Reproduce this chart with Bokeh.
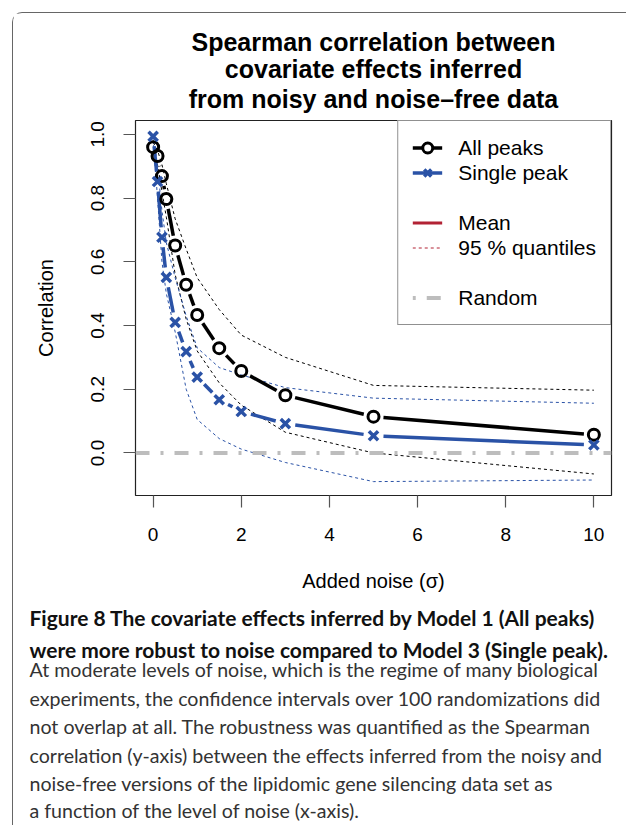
import math
from bokeh.plotting import figure
from bokeh.models import (Range1d, FixedTicker, Title, Legend, LegendItem,
                          Span, PrintfTickFormatter)
from bokeh.embed import file_html
from bokeh.resources import INLINE

# ---------------- data ----------------
noise = [0, 0.1, 0.2, 0.3, 0.5, 0.75, 1, 1.5, 2, 3, 5, 10]
all_mean = [0.960, 0.932, 0.869, 0.797, 0.651, 0.528, 0.433, 0.329, 0.257, 0.181, 0.114, 0.057]
all_upper = [0.975, 0.950, 0.905, 0.845, 0.735, 0.640, 0.550, 0.450, 0.370, 0.300, 0.212, 0.197]
all_lower = [0.945, 0.905, 0.820, 0.740, 0.560, 0.420, 0.320, 0.220, 0.150, 0.065, 0.000, -0.066]
single_mean = [0.994, 0.852, 0.677, 0.551, 0.410, 0.318, 0.238, 0.167, 0.130, 0.092, 0.054, 0.025]
single_upper = [0.998, 0.900, 0.760, 0.660, 0.550, 0.430, 0.330, 0.268, 0.245, 0.205, 0.172, 0.156]
single_lower = [0.985, 0.800, 0.600, 0.500, 0.380, 0.200, 0.105, 0.045, 0.012, -0.030, -0.090, -0.085]
random_level = 0.0

x_ticks = [0, 2, 4, 6, 8, 10]
y_ticks = [0.0, 0.2, 0.4, 0.6, 0.8, 1.0]

title_lines = ["Spearman correlation between", "covariate effects inferred",
               "from noisy and noise\u2013free data"]
x_label = "Added noise (\u03c3)"
y_label = "Correlation"
legend_labels = ["All peaks", "Single peak", "Mean", "95 % quantiles", "Random"]

caption_bold = ["Figure 8 The covariate effects inferred by Model 1 (All peaks)",
                "were more robust to noise compared to Model 3 (Single peak)."]
caption_text = ["At moderate levels of noise, which is the regime of many biological",
                "experiments, the confidence intervals over 100 randomizations did",
                "not overlap at all. The robustness was quantified as the Spearman",
                "correlation (y-axis) between the effects inferred from the noisy and",
                "noise-free versions of the lipidomic gene silencing data set as",
                "a function of the level of noise (x-axis)."]

# ---------------- layout ----------------
X_LO, X_HI = -0.4, 10.4
Y_LO, Y_HI = -0.1336, 1.0436
MARGIN = 12
FIG_W, FIG_H = 614, 813
B_LEFT, B_TOP = 122, 107
FRAME_W, FRAME_H = 476, 375
B_RIGHT = FIG_W - B_LEFT - FRAME_W
B_BOTTOM = FIG_H - B_TOP - FRAME_H

BLACK = "#000000"
BLUE = "#2A52A6"
RED = "#B22234"
GREY = "#BDBDBD"
FONT = "Liberation Sans"
NAN = float("nan")

p = figure(width=FIG_W, height=FIG_H, output_backend="svg", toolbar_location=None,
           x_range=Range1d(X_LO, X_HI), y_range=Range1d(Y_LO, Y_HI),
           min_border_left=B_LEFT, min_border_right=B_RIGHT,
           min_border_top=B_TOP, min_border_bottom=B_BOTTOM,
           margin=(MARGIN, 0, 0, MARGIN))
p.styles = {"border-left": "1px solid #666666", "border-top": "1px solid #666666",
            "border-top-left-radius": "10px"}
p.grid.visible = False
p.outline_line_color = "#222222"
p.outline_line_width = 1.2
p.background_fill_color = "white"
p.border_fill_color = "white"

for ax in (p.xaxis[0], p.yaxis[0]):
    ax.axis_line_color = None
    ax.major_tick_line_color = "#555555"
    ax.major_tick_line_width = 1.2
    ax.major_tick_in = 0
    ax.major_tick_out = 12
    ax.minor_tick_line_color = None
    ax.major_label_text_font = FONT
    ax.major_label_text_font_size = "19px"
    ax.major_label_text_color = "black"
    ax.axis_label_text_font = FONT
    ax.axis_label_text_font_size = "20px"
    ax.axis_label_text_font_style = "normal"
    ax.axis_label_text_color = "black"

p.xaxis.ticker = FixedTicker(ticks=x_ticks)
p.yaxis.ticker = FixedTicker(ticks=y_ticks)
p.yaxis.formatter = PrintfTickFormatter(format="%.1f")
p.yaxis.major_label_orientation = "vertical"
p.xaxis.axis_label = x_label
p.yaxis.axis_label = y_label
p.xaxis.major_label_standoff = 20
p.xaxis.axis_label_standoff = 26
p.yaxis.major_label_standoff = 19
p.yaxis.axis_label_standoff = 32

# titles (innermost first; outermost added last)
title_standoffs = [16, -16, 10]   # line 3, line 2, line 1
for line, so in zip(reversed(title_lines), title_standoffs):
    p.add_layout(Title(text=line, align="center", text_font=FONT, text_font_size="25px",
                       text_font_style="bold", text_color="black", standoff=so), "above")


def gapped(xs, ys, gap_px):
    """Segments between consecutive points with gaps around points (R type='b')."""
    sx = FRAME_W / (X_HI - X_LO)
    sy = FRAME_H / (Y_HI - Y_LO)
    x0, y0, x1, y1 = [], [], [], []
    for i in range(len(xs) - 1):
        dx = (xs[i + 1] - xs[i]) * sx
        dy = (ys[i + 1] - ys[i]) * sy
        L = math.hypot(dx, dy)
        if L <= 2 * gap_px:
            continue
        t = gap_px / L
        x0.append(xs[i] + (xs[i + 1] - xs[i]) * t)
        y0.append(ys[i] + (ys[i + 1] - ys[i]) * t)
        x1.append(xs[i + 1] - (xs[i + 1] - xs[i]) * t)
        y1.append(ys[i + 1] - (ys[i + 1] - ys[i]) * t)
    return dict(x0=x0, y0=y0, x1=x1, y1=y1)


# random baseline
p.add_layout(Span(location=random_level, dimension="width", line_color=GREY,
                  line_width=4, line_dash="14 11 3 11"))

# quantile lines
p.line(noise, all_upper, line_color=BLACK, line_width=1, line_dash="3 3")
p.line(noise, all_lower, line_color=BLACK, line_width=1, line_dash="3 3")
p.line(noise, single_upper, line_color=BLUE, line_width=1, line_dash="3 3")
p.line(noise, single_lower, line_color=BLUE, line_width=1, line_dash="3 3")

# mean lines with gaps (type = "b")
p.segment(line_color=BLACK, line_width=3.5, **gapped(noise, all_mean, 10))
p.segment(line_color=BLUE, line_width=3.5, **gapped(noise, single_mean, 10))
p.scatter(noise, all_mean, marker="circle", size=11, fill_color=None,
          line_color=BLACK, line_width=3)
p.scatter(noise, single_mean, marker="x", size=13, line_color=BLUE, line_width=3.5)

# legend proxy renderers (a single NaN point: not drawn in the plot)
l_all_line = p.line(x=[NAN], y=[NAN], line_color=BLACK, line_width=3.5)
l_all_pt = p.scatter(x=[NAN], y=[NAN], marker="circle", size=10, fill_color="white",
                     line_color=BLACK, line_width=3)
l_sgl_line = p.line(x=[NAN], y=[NAN], line_color=BLUE, line_width=3.5)
l_sgl_pt = p.scatter(x=[NAN], y=[NAN], marker="x", size=10, fill_color="white",
                     line_color=BLUE, line_width=3.5)
l_blank = p.line(x=[NAN], y=[NAN], line_alpha=0)
l_mean = p.line(x=[NAN], y=[NAN], line_color=RED, line_width=3)
l_q = p.line(x=[NAN], y=[NAN], line_color=RED, line_width=1, line_dash="3 3")
l_rand = p.line(x=[NAN], y=[NAN], line_color=GREY, line_width=4, line_dash="3 11 14 11")

items = [
    LegendItem(label=legend_labels[0], renderers=[l_all_line, l_all_pt]),
    LegendItem(label=legend_labels[1], renderers=[l_sgl_line, l_sgl_pt]),
    LegendItem(label=" ", renderers=[l_blank]),
    LegendItem(label=legend_labels[2], renderers=[l_mean]),
    LegendItem(label=legend_labels[3], renderers=[l_q]),
    LegendItem(label=" ", renderers=[l_blank]),
    LegendItem(label=legend_labels[4], renderers=[l_rand]),
]
legend = Legend(items=items, location="top_right", margin=0, padding=14, spacing=0,
                glyph_width=30, glyph_height=25, label_height=25, label_standoff=16,
                label_text_font=FONT, label_text_font_size="21px",
                label_text_color="black",
                border_line_color="#222222", border_line_width=1,
                background_fill_color="white", background_fill_alpha=1.0)
p.add_layout(legend)

# caption, as titles below the x axis, left-aligned at the panel's text column
CAP_OFFSET = 28 - (MARGIN + B_LEFT)
cap_standoffs = [16, -6, -5, 11.5, -5, 11.5, -5, 8]
for i, line in enumerate(caption_bold + caption_text):
    bold = i < len(caption_bold)
    p.add_layout(Title(text=line, align="left", offset=CAP_OFFSET,
                       text_font="Lato", text_font_size="21px" if bold else "19.6px",
                       text_font_style="bold" if bold else "normal",
                       text_color="#111111" if bold else "#333333",
                       standoff=cap_standoffs[i]), "below")

open("out.html", "w").write(file_html(p, INLINE))
